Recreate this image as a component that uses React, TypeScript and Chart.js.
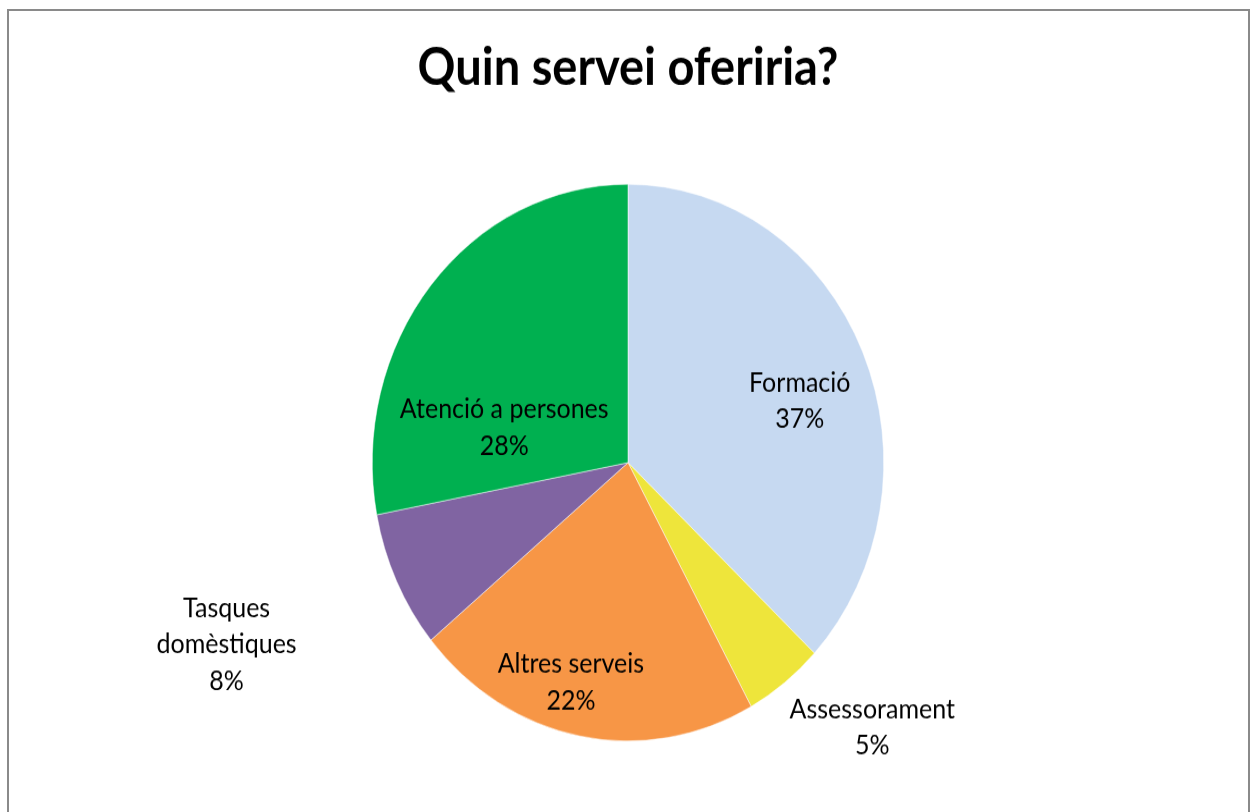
import React, { useEffect, useRef } from "react";
import { Chart, registerables } from "chart.js";

Chart.register(...registerables);

const TITLE = "Quin servei oferiria?";
const categories = ["Formació", "Assessorament", "Altres serveis", "Tasques domèstiques", "Atenció a persones"];
const values = [37, 5, 22, 8, 28];
const percentLabels = ["37%", "5%", "22%", "8%", "28%"];
const labelLines = [["Formació"], ["Assessorament"], ["Altres serveis"], ["Tasques", "domèstiques"], ["Atenció a persones"]];
const colors = ["#C6D9F1", "#EEE53B", "#F79646", "#8064A2", "#00B050"];
// label placement relative to each slice: angle shift (deg) and radius fraction
const labelAngleShift = [5.2, -7.3, 5, 2.6, -25];
const labelRadius = [0.707, 1.348, 0.82, 1.7, 0.5];

const CANVAS_W = 1256;
const CANVAS_H = 746;
const SCALE_Y = 812 / CANVAS_H;

const labelPlugin = {
  id: "sliceLabels",
  afterDatasetsDraw(chart: any) {
    const ctx = chart.ctx;
    const meta = chart.getDatasetMeta(0);
    ctx.save();
    ctx.fillStyle = "#000";
    ctx.textAlign = "center";
    ctx.textBaseline = "middle";
    ctx.font = "25px Lato";
    meta.data.forEach((arc: any, i: number) => {
      const p = arc.getProps(["x", "y", "startAngle", "endAngle", "outerRadius"], true);
      const a = (p.startAngle + p.endAngle) / 2 + (labelAngleShift[i] * Math.PI) / 180;
      const r = p.outerRadius * labelRadius[i];
      const cx = p.x + Math.cos(a) * r;
      const cy = p.y + Math.sin(a) * r;
      const lines = [...labelLines[i], percentLabels[i]];
      const lh = 33.5;
      lines.forEach((t, j) => ctx.fillText(t, cx, cy + (j - (lines.length - 1) / 2) * lh));
    });
    ctx.restore();
  },
};

const titlePlugin = {
  id: "customTitle",
  afterDraw(chart: any) {
    const ctx = chart.ctx;
    ctx.save();
    ctx.fillStyle = "#000";
    ctx.textAlign = "center";
    ctx.textBaseline = "alphabetic";
    ctx.font = "bold 47px Lato";
    ctx.fillText(TITLE, chart.width / 2, 78);
    ctx.restore();
  },
};

export default function App() {
  const ref = useRef<HTMLCanvasElement | null>(null);
  useEffect(() => {
    if (!ref.current) return;
    const chart = new Chart(ref.current, {
      type: "pie",
      data: {
        labels: categories,
        datasets: [
          {
            data: values,
            backgroundColor: colors,
            borderColor: "#ffffff",
            borderWidth: 0.5,
          },
        ],
      },
      options: {
        responsive: false,
        maintainAspectRatio: false,
        animation: false,
        devicePixelRatio: 1,
        layout: { padding: { left: 372, right: 372, top: 169, bottom: 65 } },
        plugins: {
          legend: { display: false },
          tooltip: { enabled: false },
          title: { display: false },
        },
      },
      plugins: [labelPlugin, titlePlugin],
    } as any);
    return () => chart.destroy();
  }, []);

  return (
    <div style={{ position: "fixed", left: 0, top: 0, width: 1256, height: 812, background: "#fff", overflow: "hidden" }}>
      <canvas
        ref={ref}
        width={CANVAS_W}
        height={CANVAS_H}
        style={{
          display: "block",
          width: CANVAS_W + "px",
          height: CANVAS_H + "px",
          transform: `scaleY(${SCALE_Y})`,
          transformOrigin: "0 0",
        }}
      />
      <div
        style={{
          position: "absolute",
          left: 7,
          top: 9,
          width: 1243,
          height: 900,
          border: "2px solid #8a8a8a",
          boxSizing: "border-box",
          pointerEvents: "none",
        }}
      />
    </div>
  );
}
